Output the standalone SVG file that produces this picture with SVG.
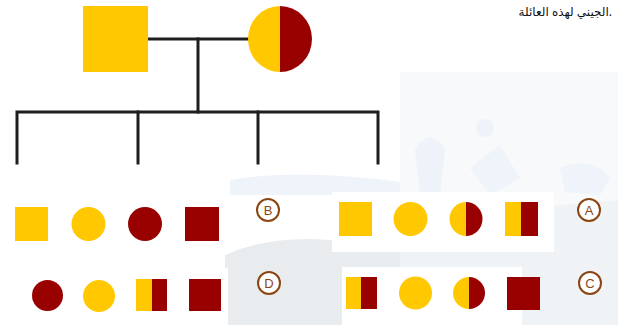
<svg xmlns="http://www.w3.org/2000/svg" width="618" height="325" viewBox="0 0 618 325">
<style>
.y{fill:#FFC800}
.r{fill:#990000}
.ln{stroke:#1e1e1e;stroke-width:3;fill:none;stroke-linecap:square}
.lab circle{fill:#fff;stroke:#8B4513;stroke-width:2}
.lab text{font-family:"Liberation Sans",Arial,sans-serif;font-size:13px;fill:#8B4513;text-anchor:middle}
.bgw{fill:#fff}
</style>
<rect width="618" height="325" fill="#fff"/>
<g id="watermark">
<rect x="400" y="72" width="218" height="253" fill="#f7f9fa"/>
<path d="M415 150 Q430 125 445 150 L440 195 L420 195 Z" fill="#edf3f8"/>
<circle cx="485" cy="128" r="9" fill="#edf3f8"/>
<path d="M470 168 L500 145 L520 178 L490 195 Z" fill="#eef4f9"/>
<path d="M560 168 Q590 155 610 178 L600 195 L565 192 Z" fill="#eef4f9"/>
<path d="M225 325 L225 255 Q270 235 330 240 Q360 238 400 235 L400 325 Z" fill="#e9ecee"/>
<path d="M400 325 L400 235 Q470 215 560 205 L618 200 L618 325 Z" fill="#f0f3f5"/>
<path d="M230 180 Q300 168 400 182 L400 195 L230 195 Z" fill="#eef4f9"/>
<rect class="bgw" x="5" y="194" width="223" height="58"/>
<rect class="bgw" x="332" y="192" width="222" height="60"/>
<rect class="bgw" x="22" y="268" width="206" height="57"/>
<rect class="bgw" x="342" y="267" width="180" height="58"/>
</g>
<text x="612" y="16" font-family="'Noto Sans','DejaVu Sans',sans-serif" font-size="12" fill="#111" text-anchor="end">الجيني لهذه العائلة.</text>
<g id="connectors">
<line class="ln" x1="148" y1="39" x2="248" y2="39"/>
<line class="ln" x1="198" y1="39" x2="198" y2="112"/>
<polyline class="ln" points="17,163 17,112 378,112 378,163"/>
<line class="ln" x1="138" y1="112" x2="138" y2="163"/>
<line class="ln" x1="258" y1="112" x2="258" y2="163"/>
</g>
<g id="father"><rect class="y" x="83" y="6" width="65" height="66"/></g>
<g id="mother">
<path class="y" d="M280 6 A32 33 0 0 0 280 72 Z"/>
<path class="r" d="M280 6 A32 33 0 0 1 280 72 Z"/>
</g>
<g id="optionB">
<rect class="y" x="15" y="207" width="33" height="34"/>
<circle class="y" cx="88.5" cy="224" r="17"/>
<circle class="r" cx="145" cy="224" r="17"/>
<rect class="r" x="185" y="207" width="34" height="34"/>
<g class="lab"><circle cx="268" cy="210" r="11"/><text x="268" y="215">B</text></g>
</g>
<g id="optionA">
<rect class="y" x="339" y="202" width="33" height="34"/>
<circle class="y" cx="410.5" cy="219" r="17"/>
<path class="y" d="M466 202 A16.5 17 0 0 0 466 236 Z"/>
<path class="r" d="M466 202 A16.5 17 0 0 1 466 236 Z"/>
<rect class="y" x="505" y="202" width="16" height="34"/>
<rect class="r" x="521" y="202" width="17" height="34"/>
<g class="lab"><circle cx="589" cy="210" r="11"/><text x="589" y="215">A</text></g>
</g>
<g id="optionD">
<circle class="r" cx="47.5" cy="295.5" r="15.5"/>
<circle class="y" cx="99" cy="296" r="16"/>
<rect class="y" x="136" y="279" width="16" height="32"/>
<rect class="r" x="152" y="279" width="15" height="32"/>
<rect class="r" x="189" y="279" width="32" height="32"/>
<g class="lab"><circle cx="269" cy="283" r="11"/><text x="269" y="288">D</text></g>
</g>
<g id="optionC">
<rect class="y" x="346" y="277" width="15" height="32"/>
<rect class="r" x="361" y="277" width="16" height="32"/>
<circle class="y" cx="415.5" cy="293" r="16.5"/>
<path class="y" d="M469 277 A16 16 0 0 0 469 309 Z"/>
<path class="r" d="M469 277 A16 16 0 0 1 469 309 Z"/>
<rect class="r" x="507" y="277" width="33" height="33"/>
<g class="lab"><circle cx="590" cy="283" r="11"/><text x="590" y="288">C</text></g>
</g>
</svg>
